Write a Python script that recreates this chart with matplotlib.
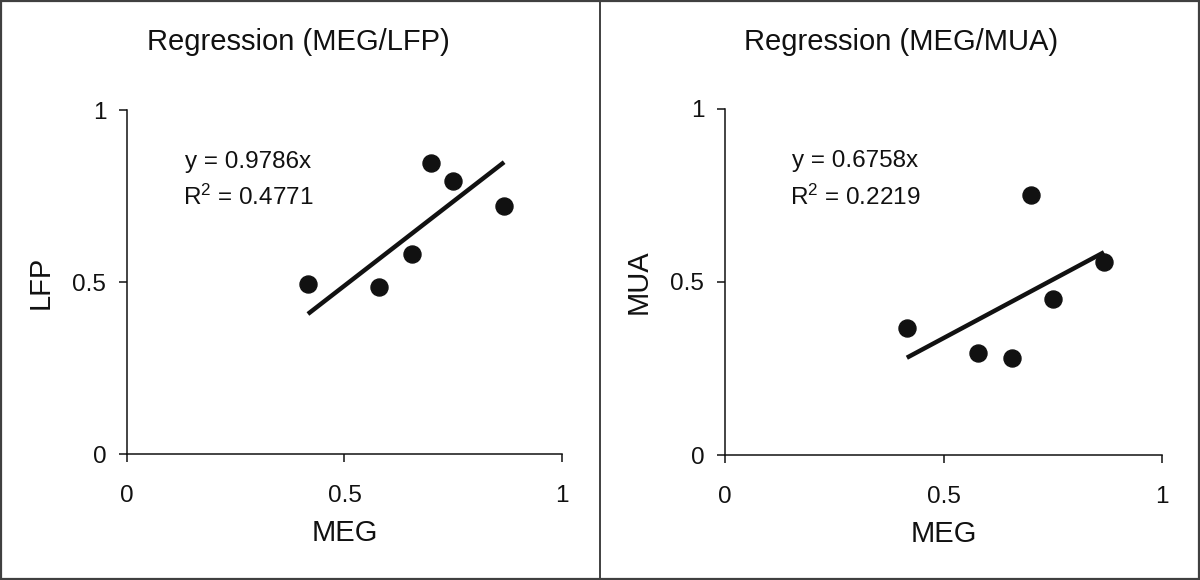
import numpy as np
import matplotlib.pyplot as plt
from matplotlib.lines import Line2D
from matplotlib.patches import Rectangle

plt.rcParams['font.family'] = ['Liberation Sans', 'DejaVu Sans']

# values
meg = [0.416, 0.579, 0.656, 0.699, 0.750, 0.867]
lfp = [0.494, 0.485, 0.581, 0.846, 0.794, 0.721]
mua = [0.367, 0.295, 0.280, 0.751, 0.451, 0.558]

titles = ['Regression (MEG/LFP)', 'Regression (MEG/MUA)']
ylabels = ['LFP', 'MUA']
slopes = [0.9786, 0.6758]
r2 = ['0.4771', '0.2219']
ticks = [0, 0.5, 1]
tick_labels = ['0', '0.5', '1']

ink = '#111111'

fig = plt.figure(figsize=(12, 5.8), dpi=100)
fig.patch.set_facecolor('white')

# axes positions in figure fraction
boxes = [[0.1058, 0.2172, 0.3625, 0.5931],
         [0.6042, 0.2155, 0.3642, 0.5966]]
text_x = [0.278, 0.297]
title_x = [0.249, 0.751]

for i, ys in enumerate([lfp, mua]):
    ax = fig.add_axes(boxes[i])
    ax.scatter(meg, ys, s=150, color=ink, zorder=3, clip_on=False)
    xs = np.array([min(meg), max(meg)])
    ax.plot(xs, slopes[i] * xs, color=ink, lw=3.2, solid_capstyle='butt')

    ax.set_xlim(0, 1)
    ax.set_ylim(0, 1)
    ax.set_xticks(ticks)
    ax.set_xticklabels(tick_labels)
    ax.set_yticks(ticks)
    ax.set_yticklabels(tick_labels)
    ax.spines['top'].set_visible(False)
    ax.spines['right'].set_visible(False)
    for s in ['left', 'bottom']:
        ax.spines[s].set_linewidth(1.1)
        ax.spines[s].set_color(ink)
    ax.tick_params(axis='x', direction='out', length=6, width=1.1, color=ink,
                   labelsize=17.5, pad=16, labelcolor=ink)
    ax.tick_params(axis='y', direction='out', length=6, width=1.1, color=ink,
                   labelsize=17.5, pad=9, labelcolor=ink)

    ax.set_xlabel('MEG', fontsize=21, color=ink, labelpad=9)
    ax.set_ylabel(ylabels[i], fontsize=21, color=ink, labelpad=13)

    ax.text(text_x[i], 0.849, 'y = %.4fx' % slopes[i], fontsize=17.5, color=ink,
            ha='center', va='center')
    ax.text(text_x[i], 0.745, '$\\mathregular{R^2}$ = ' + r2[i], fontsize=17.5,
            color=ink, ha='center', va='center')

    fig.text(title_x[i], 0.927, titles[i], fontsize=21, color=ink,
             ha='center', va='center')

# outer frame and divider
fig.patches.append(Rectangle((0.001, 0.002), 0.998, 0.996, transform=fig.transFigure,
                             fill=False, edgecolor='#404040', linewidth=1.6))
fig.lines.append(Line2D([0.5, 0.5], [0, 1], transform=fig.transFigure,
                        color='#404040', linewidth=1.4))

fig.savefig('out.png', dpi=100, facecolor='white')
